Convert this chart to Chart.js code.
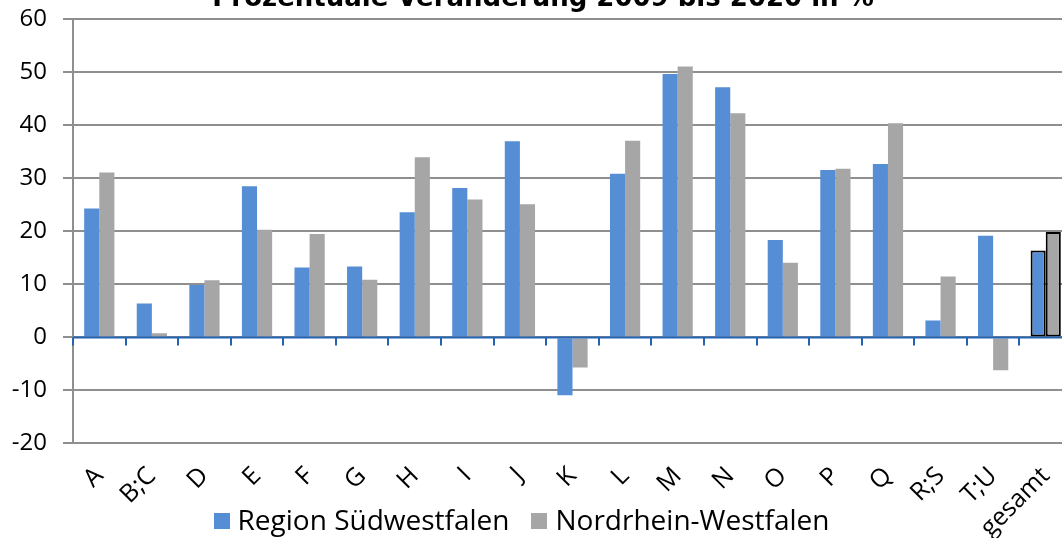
<!DOCTYPE html>
<html>
<head>
<meta charset="utf-8">
<script src="https://cdn.jsdelivr.net/npm/chart.js@4"></script>
<style>
    html, body { margin: 0; padding: 0; background: #fff; overflow: hidden; width: 1062px; height: 538px; }
    #wrap { position: absolute; left: 0; top: -11.4px; width: 1072px; height: 549.4px; }
    #title { position: absolute; left: 0; width: 1086px; top: -19px; text-align: center;
        font: bold 26px 'DejaVu Sans', sans-serif; line-height: 32px; color: #000; white-space: nowrap; }
    #legend { position: absolute; left: 0; width: 1043px; top: 505px; display: flex; justify-content: center;
        font: 28px 'Open Sans', sans-serif; line-height: 28px; color: #000; white-space: nowrap; }
    #legend .item { display: flex; align-items: center; margin: 0 11px; }
    #legend .box { width: 16px; height: 16px; margin: 4px 8px 0 0; }
</style>
</head>
<body>
<div id="wrap"><canvas id="BarChart"></canvas></div>
<div id="title">Prozentuale Veränderung 2009 bis 2020 in %</div>
<div id="legend"></div>
<script>
const branch_labels = [
    'A', 'B;C', 'D', 'E', 'F', 'G', 'H', 'I', 'J', 'K',
    'L', 'M', 'N', 'O', 'P', 'Q', 'R;S', 'T;U', 'gesamt'
];
const suedwestfalen = [
    24.3, 6.4, 9.9, 28.5, 13.2, 13.4, 23.6, 28.2, 37.0, -10.9,
    30.9, 49.7, 47.2, 18.4, 31.6, 32.7, 3.2, 19.2, 16.4
];
const nrw = [
    31.1, 0.8, 10.8, 20.3, 19.5, 10.9, 34.0, 26.0, 25.1, -5.7,
    37.1, 51.1, 42.3, 14.1, 31.8, 40.4, 11.5, -6.2, 19.9
];
const y_ticks = { min: -20, max: 60, step: 10 };

const FONT = "'Open Sans', sans-serif";
const last = branch_labels.length - 1;
const borderWidths = branch_labels.map((l, i) => i === last ? 2 : 0);

// blue zero axis with category tick marks
const zeroAxis = {
    id: 'zeroAxis',
    afterDatasetsDraw(chart) {
        const ctx = chart.ctx;
        const x = chart.scales.x;
        const y0 = chart.scales.y.getPixelForValue(0);
        const half = (x.getPixelForValue(1) - x.getPixelForValue(0)) / 2;
        ctx.save();
        ctx.strokeStyle = '#2563b3';
        ctx.lineWidth = 2;
        ctx.beginPath();
        ctx.moveTo(chart.chartArea.left, y0);
        ctx.lineTo(chart.chartArea.right, y0);
        for (let i = 0; i <= branch_labels.length; i++) {
            const px = Math.round(x.getPixelForValue(i) - half);
            ctx.moveTo(px, y0);
            ctx.lineTo(px, y0 + 8);
        }
        ctx.stroke();
        ctx.restore();
    }
};

const bar_data = {
    labels: branch_labels,
    datasets: [{
        label: 'Region Südwestfalen',
        data: suedwestfalen,
        backgroundColor: '#558ed5',
        borderColor: '#000',
        borderWidth: borderWidths,
        borderSkipped: false
    }, {
        label: 'Nordrhein-Westfalen',
        data: nrw,
        backgroundColor: '#a6a6a6',
        borderColor: '#000',
        borderWidth: borderWidths,
        borderSkipped: false
    }]
};

const configBar = {
    type: 'bar',
    data: bar_data,
    plugins: [zeroAxis],
    options: {
        responsive: true,
        maintainAspectRatio: false,
        animation: false,
        datasets: {
            bar: { categoryPercentage: 0.575, barPercentage: 1.0 }
        },
        layout: { padding: { top: 30.4, left: 0, right: 0, bottom: 0 } },
        plugins: {
            title: { display: false },
            tooltip: { enabled: false },
            legend: { display: false }
        },
        scales: {
            x: {
                grid: { display: false },
                border: { display: false },
                ticks: {
                    minRotation: 45,
                    maxRotation: 45,
                    autoSkip: false,
                    padding: 10,
                    color: '#000',
                    font: { family: FONT, size: 25 }
                },
                afterFit(scale) {
                    scale.height = 95;
                    scale.paddingLeft = 0;
                    scale.paddingRight = 0;
                }
            },
            y: {
                min: y_ticks.min,
                max: y_ticks.max,
                grid: {
                    color: '#8f8f8f',
                    lineWidth: 2,
                    tickLength: 10
                },
                border: { display: true, color: '#8f8f8f', width: 2 },
                ticks: {
                    stepSize: y_ticks.step,
                    padding: 16,
                    color: '#000',
                    font: { family: FONT, size: 24, lineHeight: 1.2 }
                },
                afterFit(scale) { scale.width = 73; }
            }
        }
    }
};

const BarChart = new Chart(
    document.getElementById('BarChart'),
    configBar
);

// html legend from the chart's datasets
const legendEl = document.getElementById('legend');
BarChart.data.datasets.forEach(ds => {
    const item = document.createElement('div');
    item.className = 'item';
    const box = document.createElement('span');
    box.className = 'box';
    box.style.background = ds.backgroundColor;
    const txt = document.createElement('span');
    txt.textContent = ds.label;
    item.appendChild(box);
    item.appendChild(txt);
    legendEl.appendChild(item);
});
</script>
</body>
</html>
